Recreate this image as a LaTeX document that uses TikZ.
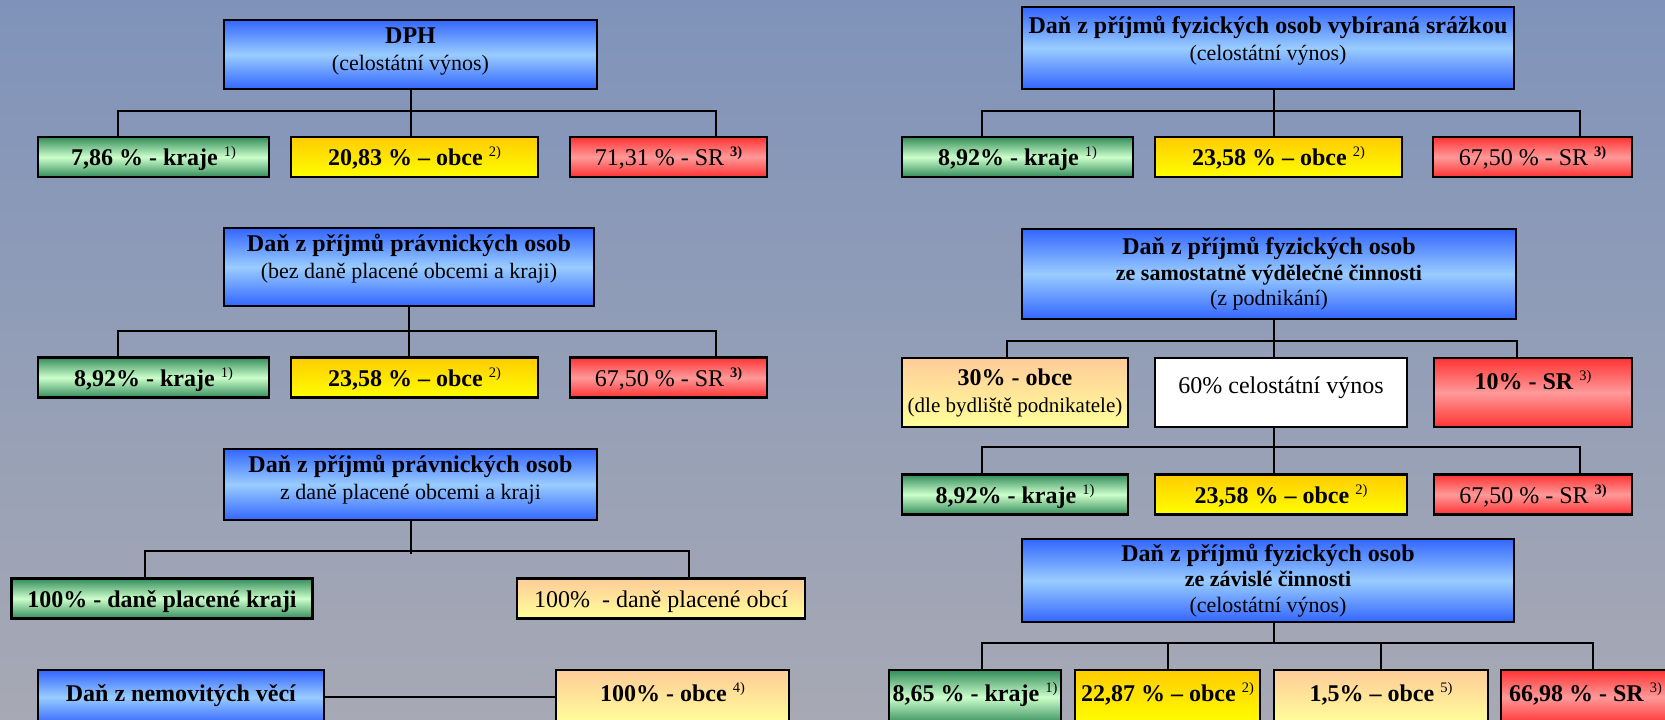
\documentclass[tikz,border=0pt]{standalone}
\usepackage{fontspec}
\setmainfont{Liberation Serif}
\definecolor{bgtop}{RGB}{127,147,186}
\definecolor{bgbot}{RGB}{167,169,180}
\definecolor{blueE}{RGB}{51,102,255}
\definecolor{blueM}{RGB}{153,204,255}
\definecolor{greenE}{RGB}{51,140,90}
\definecolor{greenM}{RGB}{204,255,204}
\definecolor{yelT}{RGB}{255,204,0}
\definecolor{yelB}{RGB}{255,255,0}
\definecolor{redE}{RGB}{255,51,51}
\definecolor{redM}{RGB}{255,153,153}
\definecolor{peachT}{RGB}{255,204,153}
\definecolor{peachB}{RGB}{255,255,153}
\newcommand{\fnote}[1]{\raisebox{9pt}{\fontsize{14.5}{14.5}\selectfont #1}}
\newcommand{\subln}[1]{{\fontsize{22}{26}\selectfont #1}}
\newcommand{\lowstrut}[1]{\rule[-#1]{0pt}{#1}}

\begin{document}
\begin{tikzpicture}[x=1pt, y=-1pt,
        box/.style={draw=black, line width=2.2pt, inner sep=0pt, align=center,
            font=\fontsize{24}{27}\selectfont},
        onerow/.style={text height=17pt, text depth=0pt, minimum height=40},
        cutrow/.style={anchor=north, text height=31pt, text depth=23pt},
        bluebox/.style={box, top color=blueE, bottom color=blueE, middle color=blueM},
        greenbox/.style={box, top color=greenE, bottom color=greenE, middle color=greenM},
        yellowbox/.style={box, top color=yelT, bottom color=yelB},
        redbox/.style={box, top color=redE, bottom color=redE, middle color=redM},
        peachbox/.style={box, top color=peachT, bottom color=peachB},
        whitebox/.style={box, fill=white},
        link/.style={line width=2pt}]
            \useasboundingbox (0,0) rectangle (1665,720);
            \clip (0,0) rectangle (1665,720);
            \fill[top color=bgtop, bottom color=bgbot] (0,0) rectangle (1665,720);

            \node[bluebox, minimum width=373, minimum height=69] (dph) at (410.5,54.5) {\textbf{DPH}\\ \subln{(celostátní výnos)}\lowstrut{11pt}};
            \node[greenbox, onerow, minimum width=231] (g1) at (153.5,157) {\textbf{7,86 \% - kraje} \fnote{1)}};
            \node[yellowbox, onerow, minimum width=247] (y1) at (414.5,157) {\textbf{20,83 \% – obce} \fnote{2)}};
            \node[redbox, onerow, minimum width=197] (r1) at (668.5,157) {71,31 \% - SR \fnote{\textbf{3)}}};
            \draw[link] (dph.south) -- (dph.south |- y1.north);
            \draw[link] ([xshift=-35.5pt]g1.north) -- ++(0,-25) -| ([xshift=47.5pt]r1.north);

            \node[bluebox, minimum width=370, minimum height=78] (pr1) at (409,267) {\textbf{Daň z příjmů právnických osob}\\ \subln{(bez daně placené obcemi a kraji)}\lowstrut{21pt}};
            \node[greenbox, onerow, minimum width=231] (g2) at (153.5,377.5) {\textbf{8,92\% - kraje} \fnote{1)}};
            \node[yellowbox, onerow, minimum width=247] (y2) at (414.5,377.5) {\textbf{23,58 \% – obce} \fnote{2)}};
            \node[redbox, onerow, minimum width=197] (r2) at (668.5,377.5) {67,50 \% - SR \fnote{\textbf{3)}}};
            \draw[link] (pr1.south) -- (pr1.south |- y2.north);
            \draw[link] ([xshift=-35.5pt]g2.north) -- ++(0,-25) -| ([xshift=47.5pt]r2.north);

            \node[bluebox, minimum width=373, minimum height=71] (pr2) at (410.5,484.5) {\textbf{Daň z příjmů právnických osob}\\ \subln{z daně placené obcemi a kraji}\lowstrut{15pt}};
            \node[greenbox, onerow, minimum width=301] (g3) at (162,598.5) {\textbf{100\% - daně placené kraji}};
            \node[peachbox, onerow, minimum width=288] (o3) at (661,598.5) {100\%\ \ - daně placené obcí};
            \draw[link] (pr2.south) -- ++(0,33);
            \draw[link] ([xshift=-17.5pt]g3.north) -- ++(0,-26) -| ([xshift=28pt]o3.north);

            \node[bluebox, cutrow, minimum width=286] (nem) at (181,669) {\textbf{Daň z nemovitých věcí}};
            \node[peachbox, cutrow, minimum width=233] (o4) at (672.5,669) {\textbf{100\% - obce} \fnote{4)}};
            \draw[link] (nem.east) -- (o4.west);

            \node[bluebox, minimum width=492, minimum height=82] (fyz1) at (1268,48) {\textbf{Daň z příjmů fyzických osob vybíraná srážkou}\\ \subln{(celostátní výnos)}\lowstrut{19pt}};
            \node[greenbox, onerow, minimum width=231] (ga) at (1017.5,157) {\textbf{8,92\% - kraje} \fnote{1)}};
            \node[yellowbox, onerow, minimum width=247] (ya) at (1278.5,157) {\textbf{23,58 \% – obce} \fnote{2)}};
            \node[redbox, onerow, minimum width=199] (ra) at (1532.5,157) {67,50 \% - SR \fnote{\textbf{3)}}};
            \draw[link] ([xshift=6pt]fyz1.south) -- ++(0,48);
            \draw[link] ([xshift=-35.5pt]ga.north) -- ++(0,-25) -| ([xshift=47.5pt]ra.north);

            \node[bluebox, minimum width=494, minimum height=90, font=\fontsize{24}{25.5}\selectfont] (fyz2) at (1269,274) {\textbf{Daň z příjmů fyzických osob}\\ \subln{\textbf{ze samostatně výdělečné činnosti}}\\ \subln{(z podnikání)}};
            \node[peachbox, minimum width=226, minimum height=69] (ob) at (1015,392.5) {\textbf{30\% - obce}\\ {\fontsize{21}{24}\selectfont (dle bydliště podnikatele)}};
            \node[whitebox, minimum width=252, minimum height=69, text height=17pt, text depth=15pt] (wb) at (1281,392.5) {60\% celostátní výnos};
            \node[redbox, minimum width=198, minimum height=69, text height=17pt, text depth=23pt] (rb) at (1533,392.5) {\textbf{10\% - SR} \fnote{3)}};
            \draw[link] ([xshift=5pt]fyz2.south) -- ++(0,39);
            \draw[link] ([xshift=-8pt]ob.north) -- ++(0,-16) -| ([xshift=-16pt]rb.north);

            \node[greenbox, onerow, minimum width=226] (gc) at (1015,494.5) {\textbf{8,92\% - kraje} \fnote{1)}};
            \node[yellowbox, onerow, minimum width=252] (yc) at (1281,494.5) {\textbf{23,58 \% – obce} \fnote{2)}};
            \node[redbox, onerow, minimum width=198] (rc) at (1533,494.5) {67,50 \% - SR \fnote{\textbf{3)}}};
            \draw[link] ([xshift=-7pt]wb.south) -- ++(0,48);
            \draw[link] ([xshift=-33pt]gc.north) -- ++(0,-26) -| ([xshift=47pt]rc.north);

            \node[bluebox, minimum width=492, minimum height=83, font=\fontsize{24}{25.5}\selectfont] (fyz3) at (1268,580.5) {\textbf{Daň z příjmů fyzických osob}\\ \subln{\textbf{ze závislé činnosti}}\\ \subln{(celostátní výnos)}};
            \node[greenbox, cutrow, minimum width=172] (gd) at (975,669) {\textbf{8,65 \% - kraje} \fnote{1)}};
            \node[yellowbox, cutrow, minimum width=185] (yd) at (1167.5,669) {\textbf{22,87 \% – obce} \fnote{2)}};
            \node[peachbox, cutrow, minimum width=214] (od) at (1381,669) {\textbf{1,5\% – obce} \fnote{5)}};
            \node[redbox, cutrow, minimum width=169] (rd) at (1585.5,669) {\textbf{66,98 \% - SR} \fnote{3)}};
            \draw[link] ([xshift=6pt]fyz3.south) -- ++(0,21);
            \draw[link] ([xshift=7pt]gd.north) -- ++(0,-26) -| ([xshift=7.5pt]rd.north);
            \draw[link] (yd.north) -- ++(0,-26);
            \draw[link] (od.north) -- ++(0,-26);
        \end{tikzpicture}
\end{document}
